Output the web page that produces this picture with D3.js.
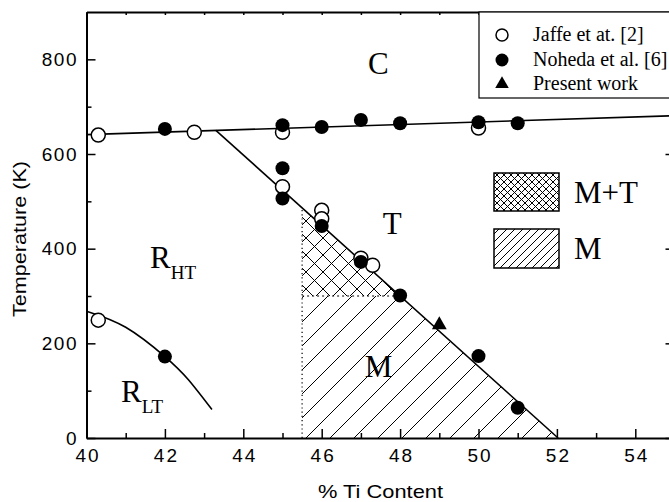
<!DOCTYPE html>
<html>
<head>
<meta charset="utf-8">
<script src="https://cdn.jsdelivr.net/npm/d3@7"></script>
<style>
body { margin: 0; background: #fff; }
svg { display: block; }
.axis path, .axis line { stroke: #000; }
.axis text { font-family: Arial, "Liberation Sans", sans-serif; font-size: 19px; fill: #000; }
.serif { font-family: "Times New Roman", "Liberation Serif", serif; fill: #000; }
</style>
</head>
<body>
<script>
var width = 669, height = 502;

// Jaffe et at. [2] (open circles)
var jaffeTi = [40.3, 42.75, 45, 45, 46, 46, 47, 47.3, 50, 40.3];
var jaffeT  = [640, 646, 646, 531, 481, 463, 380, 365, 655, 249];

// Noheda et al. [6] (filled circles)
var nohedaTi = [42, 45, 46, 47, 48, 50, 51, 45, 45, 46, 47, 48, 50, 51, 42];
var nohedaT  = [653, 661, 657, 672, 665, 667, 665, 570, 506, 448, 372, 301, 173, 64, 172];

// Present work (triangle)
var presentTi = [49];
var presentT  = [239];

// phase boundaries (Ti %, K)
var cubicLine = [[40, 641], [55, 681]];
var tetraLine = [[43.3, 650], [52.03, 0]];
var rltCurve  = [[40, 268], [41, 234], [42, 172], [42.6, 123], [43.2, 60]];
var mEdgeTi = 45.5, mTopT = 300;

var xMajor = [40, 42, 44, 46, 48, 50, 52, 54];
var xMinor = [41, 43, 45, 47, 49, 51, 53, 55];
var yMajor = [0, 200, 400, 600, 800];
var yMinor = [100, 300, 500, 700];

var legendNames = ['Jaffe et at. [2]', 'Noheda et al. [6]', 'Present work'];

var x = d3.scaleLinear().domain([40, 55]).range([86.5, 674.5]),
    y = d3.scaleLinear().domain([0, 900]).range([438, 12]);

var svg = d3.select('body').append('svg')
    .attr('width', width)
    .attr('height', height);

// hatch patterns
var defs = svg.append('defs');
function hatch(id, s, cross) {
    var p = defs.append('pattern')
        .attr('id', id)
        .attr('patternUnits', 'userSpaceOnUse')
        .attr('width', s).attr('height', s);
    var d = 'M0,' + s + 'L' + s + ',0M' + (-s / 2) + ',' + (s / 2) + 'L' + (s / 2) + ',' + (-s / 2) +
        'M' + (s / 2) + ',' + (s * 1.5) + 'L' + (s * 1.5) + ',' + (s / 2);
    if (cross) {
        d += 'M0,0L' + s + ',' + s + 'M' + (-s / 2) + ',' + (s / 2) + 'L' + (s / 2) + ',' + (s * 1.5) +
            'M' + (s / 2) + ',' + (-s / 2) + 'L' + (s * 1.5) + ',' + (s / 2);
    }
    p.append('path').attr('d', d).attr('stroke', '#000').attr('stroke-width', 1).attr('fill', 'none');
}
hatch('hM', 24, false);
hatch('hMT', 17, true);
hatch('hMleg', 8, false);
hatch('hMTleg', 7, true);

// tetragonal boundary helpers
var slope = (tetraLine[1][1] - tetraLine[0][1]) / (tetraLine[1][0] - tetraLine[0][0]);
function tetraAt(ti) { return tetraLine[0][1] + (ti - tetraLine[0][0]) * slope; }
function tiAt(t) { return tetraLine[0][0] + (t - tetraLine[0][1]) / slope; }

var mtPoly = [[mEdgeTi, mTopT], [mEdgeTi, tetraAt(mEdgeTi)], [tiAt(mTopT), mTopT]];
var mPoly = [[mEdgeTi, 0], [mEdgeTi, mTopT], [tiAt(mTopT), mTopT], [tetraLine[1][0], 0]];

var line = d3.line()
    .x(function (d) { return x(d[0]); })
    .y(function (d) { return y(d[1]); });

svg.append('path').attr('d', line(mPoly) + 'Z').attr('fill', 'url(#hM)');
svg.append('path').attr('d', line(mtPoly) + 'Z').attr('fill', 'url(#hMT)');

// dotted edges
svg.append('path')
    .attr('d', line([[mEdgeTi, 0], [mEdgeTi, tetraAt(mEdgeTi)]]))
    .attr('stroke', '#000').attr('stroke-width', 1.2).attr('stroke-dasharray', '1.2,3').attr('fill', 'none');
svg.append('path')
    .attr('d', line([[mEdgeTi, mTopT], [tiAt(mTopT), mTopT]]))
    .attr('stroke', '#000').attr('stroke-width', 1).attr('stroke-dasharray', '2,3').attr('fill', 'none');

// boundaries
[cubicLine, tetraLine].forEach(function (l) {
    svg.append('path').attr('d', line(l))
        .attr('stroke', '#000').attr('stroke-width', 1.6).attr('fill', 'none');
});
svg.append('path')
    .attr('d', line.curve(d3.curveNatural)(rltCurve))
    .attr('stroke', '#000').attr('stroke-width', 1.6).attr('fill', 'none');
line.curve(d3.curveLinear);

// axes
function styleAxis(g) {
    g.select('.domain').attr('stroke-width', 2);
    g.selectAll('.tick line').attr('stroke-width', 1.5);
}
svg.append('g').attr('class', 'axis')
    .attr('transform', 'translate(0,' + y(0) + ')')
    .call(d3.axisBottom(x).tickValues(xMajor).tickSize(-9).tickSizeOuter(0).tickPadding(11).tickFormat(d3.format('d')))
    .call(styleAxis)
    .selectAll('text').attr('textLength', function (d) { return String(d).length * 11.6; });
svg.append('g').attr('class', 'axis')
    .attr('transform', 'translate(0,' + y(0) + ')')
    .call(d3.axisBottom(x).tickValues(xMinor).tickSize(-5).tickFormat(''))
    .call(styleAxis)
    .select('.domain').remove();
svg.append('g').attr('class', 'axis')
    .attr('transform', 'translate(0,' + y(900) + ')')
    .call(d3.axisTop(x).ticks(15).tickSize(-3).tickSizeOuter(0).tickFormat(''))
    .call(styleAxis);
svg.append('g').attr('class', 'axis')
    .attr('transform', 'translate(' + x(40) + ',0)')
    .call(d3.axisLeft(y).tickValues(yMajor).tickSize(-9).tickSizeOuter(0).tickPadding(10).tickFormat(d3.format('d')))
    .call(styleAxis)
    .selectAll('text').attr('textLength', function (d) { return String(d).length * 11.6; });
svg.append('g').attr('class', 'axis')
    .attr('transform', 'translate(' + x(40) + ',0)')
    .call(d3.axisLeft(y).tickValues(yMinor).tickSize(-5).tickFormat(''))
    .call(styleAxis)
    .select('.domain').remove();
svg.append('g').attr('class', 'axis')
    .attr('transform', 'translate(' + x(55) + ',0)')
    .call(d3.axisRight(y).tickValues(yMajor).tickSize(-9).tickSizeOuter(0).tickFormat(''))
    .call(styleAxis);

// axis titles
svg.append('text')
    .attr('x', 318).attr('y', 498)
    .attr('textLength', 125).attr('lengthAdjust', 'spacingAndGlyphs')
    .style('font-family', 'Arial, "Liberation Sans", sans-serif').style('font-size', '19px')
    .text('% Ti Content');
svg.append('text')
    .attr('transform', 'translate(26,239) rotate(-90)')
    .attr('text-anchor', 'middle')
    .attr('textLength', 156).attr('lengthAdjust', 'spacingAndGlyphs')
    .style('font-family', 'Arial, "Liberation Sans", sans-serif').style('font-size', '19px')
    .text('Temperature (K)');

// data markers
svg.selectAll('circle.jaffe')
    .data(d3.range(jaffeTi.length))
    .enter().append('circle').attr('class', 'jaffe')
    .attr('cx', function (i) { return x(jaffeTi[i]); })
    .attr('cy', function (i) { return y(jaffeT[i]); })
    .attr('r', 7).attr('fill', '#fff').attr('stroke', '#000').attr('stroke-width', 1.5);
svg.selectAll('circle.noheda')
    .data(d3.range(nohedaTi.length))
    .enter().append('circle').attr('class', 'noheda')
    .attr('cx', function (i) { return x(nohedaTi[i]); })
    .attr('cy', function (i) { return y(nohedaT[i]); })
    .attr('r', 7).attr('fill', '#000');
var tri = d3.symbol().type(d3.symbolTriangle).size(95);
svg.selectAll('path.present')
    .data(d3.range(presentTi.length))
    .enter().append('path').attr('class', 'present')
    .attr('transform', function (i) { return 'translate(' + x(presentTi[i]) + ',' + y(presentT[i]) + ')'; })
    .attr('d', tri()).attr('fill', '#000');

// phase labels
function phase(txt, sub, ti, t) {
    var el = svg.append('text').attr('class', 'serif')
        .attr('x', x(ti)).attr('y', y(t))
        .style('font-size', '31px').text(txt);
    if (sub) el.append('tspan').attr('dy', 11).style('font-size', '19px').text(sub);
}
phase('C', null, 47.18, 769);
phase('T', null, 47.56, 431);
phase('M', null, 47.1, 129);
phase('R', 'HT', 41.62, 359);
phase('R', 'LT', 40.88, 76);

// legend (markers)
svg.append('rect')
    .attr('x', 479).attr('y', y(900)).attr('width', 260).attr('height', 86)
    .attr('fill', '#fff').attr('stroke', '#000').attr('stroke-width', 1.2);
var rows = [35, 60, 84];
svg.append('circle').attr('cx', 502).attr('cy', rows[0]).attr('r', 6)
    .attr('fill', '#fff').attr('stroke', '#000').attr('stroke-width', 1.5);
svg.append('circle').attr('cx', 502).attr('cy', rows[1]).attr('r', 6.5).attr('fill', '#000');
svg.append('path').attr('transform', 'translate(502,' + rows[2] + ')')
    .attr('d', d3.symbol().type(d3.symbolTriangle).size(80)()).attr('fill', '#000');
legendNames.forEach(function (n, i) {
    svg.append('text').attr('class', 'serif')
        .attr('x', 533).attr('y', rows[i] + 6)
        .style('font-size', '20px').text(n);
});

// legend (hatched phases)
svg.append('rect').attr('x', 494).attr('y', 173).attr('width', 65).attr('height', 38)
    .attr('fill', 'url(#hMTleg)').attr('stroke', '#000').attr('stroke-width', 1.5);
svg.append('rect').attr('x', 494).attr('y', 229).attr('width', 65).attr('height', 39)
    .attr('fill', 'url(#hMleg)').attr('stroke', '#000').attr('stroke-width', 1.5);
svg.append('text').attr('class', 'serif').attr('x', 574).attr('y', 203).style('font-size', '31px').text('M+T');
svg.append('text').attr('class', 'serif').attr('x', 574).attr('y', 259).style('font-size', '31px').text('M');
</script>
</body>
</html>
